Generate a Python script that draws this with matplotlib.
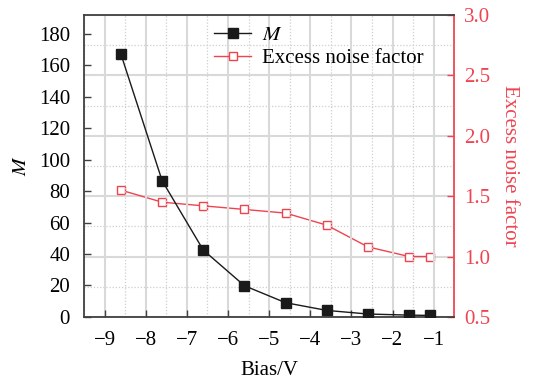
import matplotlib
matplotlib.use("Agg")
import matplotlib.pyplot as plt
from matplotlib.ticker import MultipleLocator

plt.rcParams['font.family'] = ['Liberation Serif', 'DejaVu Serif']
plt.rcParams['mathtext.fontset'] = 'stix'

bias = [-8.6, -7.6, -6.6, -5.6, -4.6, -3.6, -2.6, -1.6, -1.1]
gain_m = [167, 86.6, 42.5, 19.8, 9.0, 4.1, 1.8, 1.1, 0.9]
enf = [1.55, 1.45, 1.42, 1.39, 1.36, 1.26, 1.08, 1.0, 1.0]
x_ticks = [-9, -8, -7, -6, -5, -4, -3, -2, -1]

red = '#ee4450'
dark = '#404040'
fs = 15

fig = plt.figure(figsize=(5.35, 3.79), dpi=100)
ax = fig.add_axes([0.157, 0.164, 0.692, 0.796])
ax2 = ax.twinx()

ax.set_xlim(-9.5, -0.5)
ax.set_ylim(0, 192)
ax2.set_ylim(0.5, 3.0)

# horizontal grid follows the right axis, vertical grid the x axis
ax2.yaxis.set_major_locator(MultipleLocator(0.5))
ax2.yaxis.set_minor_locator(MultipleLocator(0.25))
ax2.grid(True, axis='y', which='major', color='#d9d9d9', lw=1.5)
ax2.grid(True, axis='y', which='minor', color='#cfcfcf', lw=0.9, ls=(0, (1, 1.5)))
ax.xaxis.set_minor_locator(MultipleLocator(0.5))
ax.grid(True, axis='x', which='major', color='#d9d9d9', lw=1.5)
ax.grid(True, axis='x', which='minor', color='#cfcfcf', lw=0.9, ls=(0, (1, 1.5)))
ax.set_axisbelow(True)
ax.set_zorder(ax2.get_zorder() + 1)
ax.patch.set_visible(False)

l1, = ax.plot(bias, gain_m, color='#1a1a1a', lw=1.0, marker='s', ms=6.5,
              mfc='#1a1a1a', mec='#1a1a1a', label='$M$', zorder=5)
l2, = ax2.plot(bias, enf, color=red, lw=1.0, marker='s', ms=5.5,
               mfc='white', mec=red, mew=1.0, label='Excess noise factor')

ax.set_xticks(x_ticks)
ax.set_xticklabels(['\u2212%d' % abs(v) for v in x_ticks])
ax.set_yticks(range(0, 181, 20))

ax.tick_params(axis='both', which='major', direction='in', labelsize=fs,
               length=5, width=1.0, color=dark, pad=10)
ax.tick_params(axis='x', which='minor', length=0)
ax.tick_params(axis='y', right=False)
ax2.tick_params(axis='y', which='major', direction='in', labelsize=fs,
                length=5, width=1.0, colors=red, pad=7)
ax2.tick_params(axis='y', which='minor', length=0)

for s in ['left', 'top', 'bottom']:
    ax.spines[s].set_color(dark)
    ax.spines[s].set_linewidth(1.3)
    ax2.spines[s].set_visible(False)
ax.spines['right'].set_visible(False)
ax2.spines['right'].set_color(red)
ax2.spines['right'].set_linewidth(1.3)

ax.set_xlabel('Bias/V', fontsize=fs, labelpad=8)
ax.set_ylabel('$M$', fontsize=fs, labelpad=6)
ax2.set_ylabel('Excess noise factor', fontsize=fs, color=red, rotation=270,
               labelpad=21)

ax.legend([l1, l2], ['$M$', 'Excess noise factor'], loc='upper left',
          bbox_to_anchor=(0.30, 1.027), frameon=False, fontsize=fs,
          handlelength=1.8, handletextpad=0.5, labelspacing=0.15)

fig.savefig('out.png', dpi=100)
